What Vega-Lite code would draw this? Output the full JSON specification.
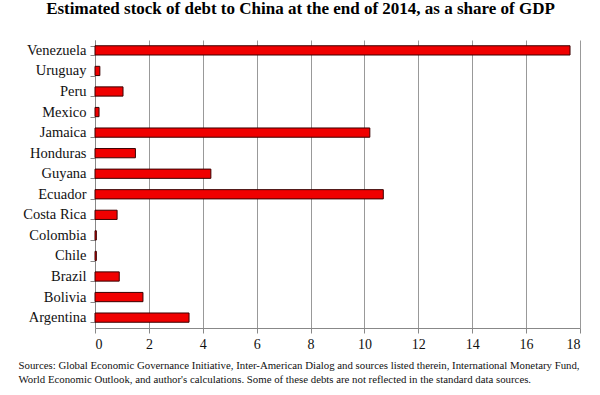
{
  "$schema": "https://vega.github.io/schema/vega-lite/v6.json",
  "width": 485,
  "height": 288,
  "autosize": "none",
  "padding": {"left": 95, "top": 40, "right": 20, "bottom": 67},
  "background": "white",
  "title": {
    "text": "Estimated stock of debt to China at the end of 2014, as a share of GDP",
    "font": "Liberation Serif",
    "fontSize": 17,
    "fontWeight": "bold",
    "color": "black",
    "anchor": "middle",
    "dx": -37,
    "offset": 14
  },
  "data": {
    "values": [
      {"country": "Venezuela", "share": 17.63},
      {"country": "Uruguay", "share": 0.18},
      {"country": "Peru", "share": 1.04},
      {"country": "Mexico", "share": 0.15},
      {"country": "Jamaica", "share": 10.2},
      {"country": "Honduras", "share": 1.5},
      {"country": "Guyana", "share": 4.3},
      {"country": "Ecuador", "share": 10.7},
      {"country": "Costa Rica", "share": 0.82},
      {"country": "Colombia", "share": 0.05},
      {"country": "Chile", "share": 0.05},
      {"country": "Brazil", "share": 0.9},
      {"country": "Bolivia", "share": 1.78},
      {"country": "Argentina", "share": 3.49}
    ]
  },
  "mark": {"type": "bar", "fill": "#f00000", "stroke": "#3a0000", "strokeWidth": 1},
  "encoding": {
    "y": {
      "field": "country",
      "type": "nominal",
      "sort": "descending",
      "scale": {"paddingInner": 0.55, "paddingOuter": 0.28},
      "axis": {
        "title": null,
        "labelFont": "Liberation Serif, serif",
        "labelFontSize": 14.5,
        "labelColor": "#111",
        "labelPadding": 4,
        "domainColor": "#888",
        "tickColor": "#888",
        "tickSize": 5,
        "tickBand": "extent"
      }
    },
    "x": {
      "field": "share",
      "type": "quantitative",
      "scale": {"domain": [0, 18], "nice": false},
      "axis": {
        "values": [0, 2, 4, 6, 8, 10, 12, 14, 16, 18],
        "grid": true,
        "gridColor": "#999",
        "domainColor": "#888",
        "tickColor": "#888",
        "tickSize": 5,
        "labelFont": "Liberation Serif, serif",
        "labelFontSize": 14,
        "labelColor": "#111",
        "labelPadding": 4,
        "title": [
          "Sources: Global Economic Governance Initiative, Inter-American Dialog and sources listed therein, International Monetary Fund,",
          "World Economic Outlook, and author's calculations. Some of these debts are not reflected in the standard data sources."
        ],
        "titleFont": "Liberation Serif, serif",
        "titleFontSize": 10.8,
        "titleFontWeight": "normal",
        "titleColor": "#111",
        "titleAnchor": "start",
        "titleAlign": "left",
        "titleBaseline": "top",
        "titleX": -77,
        "titleY": 31,
        "titleLineHeight": 14
      }
    }
  },
  "config": {
    "font": "Liberation Serif",
    "view": {"stroke": null},
    "style": {
      "guide-label": {"font": "Liberation Serif, serif"},
      "guide-title": {"font": "Liberation Serif, serif"}
    }
  }
}
